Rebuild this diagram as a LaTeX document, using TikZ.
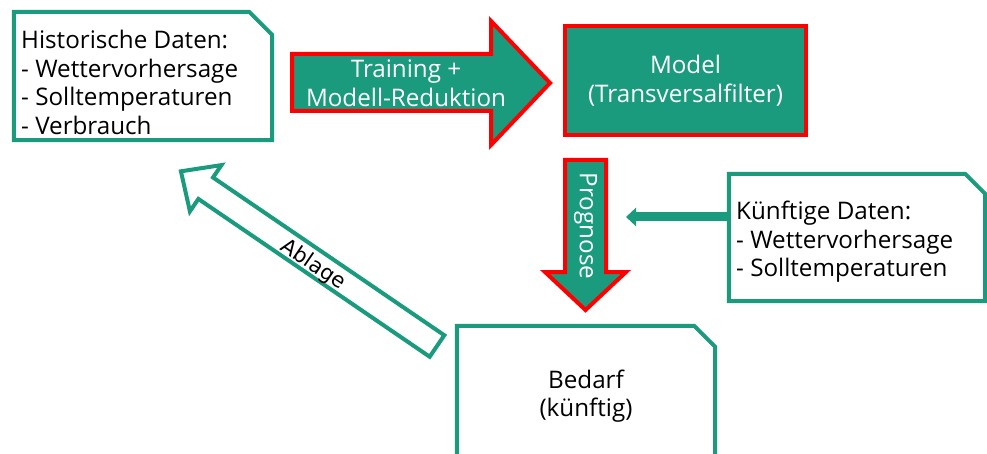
\documentclass[tikz,border=0pt]{standalone}
\usepackage{fontspec}
\setmainfont{Open Sans}
\newfontfamily\ablagefont{DejaVu Sans}
\usetikzlibrary{arrows.meta}
\definecolor{fhgreen}{HTML}{1A9B7D}
\definecolor{fhred}{HTML}{FF0000}
\begin{document}
\begin{tikzpicture}[x=1pt,y=-1pt,
  txt/.style={font=\fontsize{24.2}{28.5}\selectfont,inner sep=0pt,align=left},
  wtxt/.style={txt,align=center,text=white},
  gbox/.style={draw=fhgreen,line width=4pt,fill=white},
  rfill/.style={draw=fhred,line width=4pt,fill=fhgreen},
  frame/.style={inner sep=0pt,draw=none}]
\useasboundingbox (0,0) rectangle (987,454);
% boxes
\node[frame,minimum width=258pt,minimum height=128pt] (hist) at (143,76) {};
\node[frame,minimum width=256pt,minimum height=127pt] (kuenf) at (857,237.5) {};
\node[frame,minimum width=258pt,minimum height=144pt] (bedarf) at (586,398) {};
\coordinate (progin) at (626,217);
\draw[fhgreen,line width=9pt,-{Triangle[width=18pt,length=10pt]}] (kuenf.west|-progin) -- (progin);
\foreach \n/\k in {hist/23,kuenf/20,bedarf/21}
  \draw[gbox] (\n.south west) -- (\n.north west) -- ([xshift=-\k pt]\n.north east)
    -- ([yshift=-\k pt]\n.north east) -- (\n.south east) -- cycle;
\node[txt,anchor=west] (histtxt) at (21,82.5) {Historische Daten:\\- Wettervorhersage\\- Solltemperaturen\\- Verbrauch};
\node[txt,anchor=west] (kuenftxt) at (736,242) {Künftige Daten:\\- Wettervorhersage\\- Solltemperaturen};
\node[txt,align=center] (bedarftxt) at (586,396) {Bedarf\\(künftig)};
% model and arrows
\node[rfill,wtxt,minimum width=241pt,minimum height=109pt] (model) at (685.5,80.5) {Model\\(Transversalfilter)};
\draw[rfill] (292,54) -- (491,54) -- (491,21) -- (550,83) -- (491,145) -- (491,111) -- (292,111) -- cycle;
\node[wtxt] (train) at (406,83) {Training +\\Modell-Reduktion};
\draw[rfill] (565,160) -- (606,160) -- (606,272) -- (626,272) -- (585.5,310) -- (545,272) -- (565,272) -- cycle;
\node[wtxt,rotate=-90] (prog) at (585.5,226) {Prognose};
\begin{scope}[shift={(437,346)},rotate=145.7]
\draw[gbox] (0,-13) -- (280,-13) -- (280,-28) -- (310,0) -- (280,28) -- (280,13) -- (0,13) -- cycle;
\end{scope}
\node[font=\ablagefont\fontsize{21}{24}\selectfont,inner sep=0pt,rotate=-34.3] (ablage) at (313,265) {Ablage};
\end{tikzpicture}
\end{document}
